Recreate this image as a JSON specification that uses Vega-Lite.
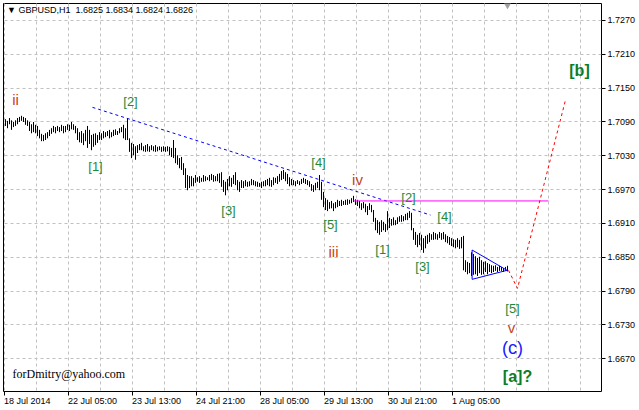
{
 "$schema": "https://vega.github.io/schema/vega-lite/v6.json",
 "width": 598, "height": 388,
 "autosize": {"type": "none"},
 "padding": {"left": 3, "top": 3, "right": 38, "bottom": 19},
 "background": "#ffffff",
 "title": {"text": "▼ GBPUSD,H1\u00a0 1.6825 1.6834 1.6824 1.6826", "anchor": "start", "frame": "group", "offset": -12, "dx": 4, "font": "Liberation Sans", "fontSize": 9, "fontWeight": "normal", "color": "#000000"},
 "config": {
  "view": {"stroke": "#000000", "strokeWidth": 1},
  "axis": {"labelFont": "Liberation Sans", "labelFontSize": 9, "labelColor": "#000000", "tickColor": "#000000", "domain": false, "gridColor": "#c0c0c0", "gridDash": [3, 3], "gridWidth": 1, "title": null}
 },
 "datasets": {
  "bars": [
   {"i":1,"p":1.7082,"hi":1.7094},{"i":2,"p":1.7078,"hi":1.7091},{"i":3,"p":1.7085,"hi":1.7096},{"i":4,"p":1.7075,"hi":1.7092},{"i":5,"p":1.7080,"hi":1.7089},
   {"i":6,"p":1.7082,"hi":1.7092},{"i":7,"p":1.7085,"hi":1.7096},{"i":8,"p":1.7089,"hi":1.7098},{"i":9,"p":1.7091,"hi":1.7100},{"i":10,"p":1.7089,"hi":1.7098},
   {"i":11,"p":1.7084,"hi":1.7096},{"i":12,"p":1.7082,"hi":1.7092},{"i":13,"p":1.7073,"hi":1.7089},{"i":14,"p":1.7069,"hi":1.7085},{"i":15,"p":1.7071,"hi":1.7089},
   {"i":16,"p":1.7069,"hi":1.7084},{"i":17,"p":1.7064,"hi":1.7082},{"i":18,"p":1.7060,"hi":1.7075},{"i":19,"p":1.7055,"hi":1.7068},{"i":20,"p":1.7055,"hi":1.7066},
   {"i":21,"p":1.7057,"hi":1.7069},{"i":22,"p":1.7060,"hi":1.7071},{"i":23,"p":1.7064,"hi":1.7075},{"i":24,"p":1.7068,"hi":1.7078},{"i":25,"p":1.7071,"hi":1.7082},
   {"i":26,"p":1.7069,"hi":1.7080},{"i":27,"p":1.7073,"hi":1.7082},{"i":28,"p":1.7071,"hi":1.7080},{"i":29,"p":1.7073,"hi":1.7084},{"i":30,"p":1.7069,"hi":1.7082},
   {"i":31,"p":1.7071,"hi":1.7082},{"i":32,"p":1.7075,"hi":1.7085},{"i":33,"p":1.7073,"hi":1.7084},{"i":34,"p":1.7076,"hi":1.7089},{"i":35,"p":1.7075,"hi":1.7085},
   {"i":36,"p":1.7069,"hi":1.7082},{"i":37,"p":1.7057,"hi":1.7078},{"i":38,"p":1.7053,"hi":1.7071},{"i":39,"p":1.7052,"hi":1.7073},{"i":40,"p":1.7048,"hi":1.7069},
   {"i":41,"p":1.7055,"hi":1.7075},{"i":42,"p":1.7043,"hi":1.7082},{"i":43,"p":1.7050,"hi":1.7075},{"i":44,"p":1.7039,"hi":1.7066},{"i":45,"p":1.7045,"hi":1.7068},
   {"i":46,"p":1.7048,"hi":1.7069},{"i":47,"p":1.7052,"hi":1.7066},{"i":48,"p":1.7057,"hi":1.7071},{"i":49,"p":1.7057,"hi":1.7069},{"i":50,"p":1.7060,"hi":1.7073},
   {"i":51,"p":1.7062,"hi":1.7071},{"i":52,"p":1.7064,"hi":1.7073},{"i":53,"p":1.7060,"hi":1.7075},{"i":54,"p":1.7062,"hi":1.7071},{"i":55,"p":1.7064,"hi":1.7075},
   {"i":56,"p":1.7066,"hi":1.7076},{"i":57,"p":1.7066,"hi":1.7073},{"i":58,"p":1.7069,"hi":1.7078},{"i":59,"p":1.7071,"hi":1.7080},{"i":60,"p":1.7060,"hi":1.7084},
   {"i":61,"p":1.7057,"hi":1.7078},{"i":62,"p":1.7057,"hi":1.7096},{"i":63,"p":1.7036,"hi":1.7060},{"i":64,"p":1.7025,"hi":1.7052},{"i":65,"p":1.7030,"hi":1.7050},
   {"i":66,"p":1.7022,"hi":1.7046},{"i":67,"p":1.7034,"hi":1.7048},{"i":68,"p":1.7039,"hi":1.7050},{"i":69,"p":1.7039,"hi":1.7052},{"i":70,"p":1.7037,"hi":1.7046},
   {"i":71,"p":1.7036,"hi":1.7048},{"i":72,"p":1.7037,"hi":1.7050},{"i":73,"p":1.7036,"hi":1.7046},{"i":74,"p":1.7039,"hi":1.7048},{"i":75,"p":1.7037,"hi":1.7046},
   {"i":76,"p":1.7036,"hi":1.7048},{"i":77,"p":1.7037,"hi":1.7045},{"i":78,"p":1.7039,"hi":1.7046},{"i":79,"p":1.7036,"hi":1.7045},{"i":80,"p":1.7037,"hi":1.7046},
   {"i":81,"p":1.7036,"hi":1.7045},{"i":82,"p":1.7037,"hi":1.7046},{"i":83,"p":1.7030,"hi":1.7045},{"i":84,"p":1.7027,"hi":1.7043},{"i":85,"p":1.7025,"hi":1.7057},
   {"i":86,"p":1.7016,"hi":1.7043},{"i":87,"p":1.7013,"hi":1.7030},{"i":88,"p":1.7007,"hi":1.7025},{"i":89,"p":1.7004,"hi":1.7027},{"i":90,"p":1.6995,"hi":1.7016},
   {"i":91,"p":1.6972,"hi":1.7007},{"i":92,"p":1.6968,"hi":1.6995},{"i":93,"p":1.6972,"hi":1.6993},{"i":94,"p":1.6975,"hi":1.6993},{"i":95,"p":1.6975,"hi":1.6990},
   {"i":96,"p":1.6981,"hi":1.6995},{"i":97,"p":1.6983,"hi":1.6991},{"i":98,"p":1.6981,"hi":1.6993},{"i":99,"p":1.6983,"hi":1.6990},{"i":100,"p":1.6983,"hi":1.6995},
   {"i":101,"p":1.6984,"hi":1.6993},{"i":102,"p":1.6986,"hi":1.6991},{"i":103,"p":1.6984,"hi":1.6995},{"i":104,"p":1.6986,"hi":1.6997},{"i":105,"p":1.6983,"hi":1.6995},
   {"i":106,"p":1.6984,"hi":1.6993},{"i":107,"p":1.6984,"hi":1.6997},{"i":108,"p":1.6981,"hi":1.6998},{"i":109,"p":1.6974,"hi":1.7000},{"i":110,"p":1.6965,"hi":1.6986},
   {"i":111,"p":1.6959,"hi":1.6983},{"i":112,"p":1.6968,"hi":1.6988},{"i":113,"p":1.6975,"hi":1.6993},{"i":114,"p":1.6974,"hi":1.6990},{"i":115,"p":1.6979,"hi":1.6995},
   {"i":116,"p":1.6977,"hi":1.7000},{"i":117,"p":1.6968,"hi":1.6986},{"i":118,"p":1.6965,"hi":1.6983},{"i":119,"p":1.6972,"hi":1.6986},{"i":120,"p":1.6972,"hi":1.6984},
   {"i":121,"p":1.6975,"hi":1.6986},{"i":122,"p":1.6974,"hi":1.6983},{"i":123,"p":1.6975,"hi":1.6984},{"i":124,"p":1.6977,"hi":1.6988},{"i":125,"p":1.6977,"hi":1.6986},
   {"i":126,"p":1.6975,"hi":1.6984},{"i":127,"p":1.6974,"hi":1.6983},{"i":128,"p":1.6974,"hi":1.6981},{"i":129,"p":1.6972,"hi":1.6983},{"i":130,"p":1.6975,"hi":1.6984},
   {"i":131,"p":1.6975,"hi":1.6986},{"i":132,"p":1.6977,"hi":1.6988},{"i":133,"p":1.6975,"hi":1.6990},{"i":134,"p":1.6974,"hi":1.6986},{"i":135,"p":1.6977,"hi":1.6991},
   {"i":136,"p":1.6981,"hi":1.6990},{"i":137,"p":1.6979,"hi":1.6993},{"i":138,"p":1.6983,"hi":1.6997},{"i":139,"p":1.6986,"hi":1.7002},{"i":140,"p":1.6988,"hi":1.7004},
   {"i":141,"p":1.6984,"hi":1.7000},{"i":142,"p":1.6979,"hi":1.6997},{"i":143,"p":1.6975,"hi":1.6991},{"i":144,"p":1.6977,"hi":1.6988},{"i":145,"p":1.6977,"hi":1.6986},
   {"i":146,"p":1.6975,"hi":1.6984},{"i":147,"p":1.6979,"hi":1.6986},{"i":148,"p":1.6977,"hi":1.6984},{"i":149,"p":1.6979,"hi":1.6988},{"i":150,"p":1.6981,"hi":1.6990},
   {"i":151,"p":1.6979,"hi":1.6988},{"i":152,"p":1.6977,"hi":1.6986},{"i":153,"p":1.6974,"hi":1.6984},{"i":154,"p":1.6967,"hi":1.6979},{"i":155,"p":1.6965,"hi":1.6977},
   {"i":156,"p":1.6968,"hi":1.6981},{"i":157,"p":1.6972,"hi":1.6983},{"i":158,"p":1.6968,"hi":1.6995},{"i":159,"p":1.6951,"hi":1.6983},{"i":160,"p":1.6938,"hi":1.6965},
   {"i":161,"p":1.6933,"hi":1.6954},{"i":162,"p":1.6931,"hi":1.6951},{"i":163,"p":1.6935,"hi":1.6947},{"i":164,"p":1.6936,"hi":1.6949},{"i":165,"p":1.6931,"hi":1.6945},
   {"i":166,"p":1.6936,"hi":1.6947},{"i":167,"p":1.6938,"hi":1.6951},{"i":168,"p":1.6940,"hi":1.6949},{"i":169,"p":1.6940,"hi":1.6951},{"i":170,"p":1.6942,"hi":1.6949},
   {"i":171,"p":1.6942,"hi":1.6951},{"i":172,"p":1.6942,"hi":1.6952},{"i":173,"p":1.6944,"hi":1.6951},{"i":174,"p":1.6945,"hi":1.6954},{"i":175,"p":1.6947,"hi":1.6958},
   {"i":176,"p":1.6942,"hi":1.6952},{"i":177,"p":1.6940,"hi":1.6951},{"i":178,"p":1.6936,"hi":1.6949},{"i":179,"p":1.6933,"hi":1.6945},{"i":180,"p":1.6936,"hi":1.6947},
   {"i":181,"p":1.6929,"hi":1.6944},{"i":182,"p":1.6924,"hi":1.6940},{"i":183,"p":1.6933,"hi":1.6945},{"i":184,"p":1.6929,"hi":1.6942},{"i":185,"p":1.6912,"hi":1.6933},
   {"i":186,"p":1.6897,"hi":1.6919},{"i":187,"p":1.6892,"hi":1.6915},{"i":188,"p":1.6889,"hi":1.6912},{"i":189,"p":1.6894,"hi":1.6915},{"i":190,"p":1.6897,"hi":1.6912},
   {"i":191,"p":1.6894,"hi":1.6908},{"i":192,"p":1.6897,"hi":1.6931},{"i":193,"p":1.6901,"hi":1.6919},{"i":194,"p":1.6905,"hi":1.6917},{"i":195,"p":1.6906,"hi":1.6920},
   {"i":196,"p":1.6906,"hi":1.6915},{"i":197,"p":1.6908,"hi":1.6920},{"i":198,"p":1.6912,"hi":1.6922},{"i":199,"p":1.6912,"hi":1.6924},{"i":200,"p":1.6913,"hi":1.6922},
   {"i":201,"p":1.6915,"hi":1.6926},{"i":202,"p":1.6915,"hi":1.6928},{"i":203,"p":1.6919,"hi":1.6931},{"i":204,"p":1.6897,"hi":1.6928},{"i":205,"p":1.6880,"hi":1.6901},
   {"i":206,"p":1.6871,"hi":1.6894},{"i":207,"p":1.6867,"hi":1.6889},{"i":208,"p":1.6871,"hi":1.6892},{"i":209,"p":1.6862,"hi":1.6889},{"i":210,"p":1.6857,"hi":1.6883},
   {"i":211,"p":1.6865,"hi":1.6887},{"i":212,"p":1.6873,"hi":1.6889},{"i":213,"p":1.6876,"hi":1.6892},{"i":214,"p":1.6880,"hi":1.6890},{"i":215,"p":1.6880,"hi":1.6894},
   {"i":216,"p":1.6881,"hi":1.6892},{"i":217,"p":1.6880,"hi":1.6890},{"i":218,"p":1.6883,"hi":1.6894},{"i":219,"p":1.6880,"hi":1.6892},{"i":220,"p":1.6881,"hi":1.6894},
   {"i":221,"p":1.6876,"hi":1.6890},{"i":222,"p":1.6874,"hi":1.6887},{"i":223,"p":1.6871,"hi":1.6885},{"i":224,"p":1.6869,"hi":1.6883},{"i":225,"p":1.6867,"hi":1.6881},
   {"i":226,"p":1.6865,"hi":1.6880},{"i":227,"p":1.6867,"hi":1.6883},{"i":228,"p":1.6864,"hi":1.6880},{"i":229,"p":1.6865,"hi":1.6885},{"i":230,"p":1.6826,"hi":1.6887},
   {"i":231,"p":1.6823,"hi":1.6844},{"i":232,"p":1.6819,"hi":1.6841},{"i":233,"p":1.6821,"hi":1.6839},{"i":234,"p":1.6816,"hi":1.6858},{"i":235,"p":1.6818,"hi":1.6855},
   {"i":236,"p":1.6819,"hi":1.6851},{"i":237,"p":1.6816,"hi":1.6848},{"i":238,"p":1.6821,"hi":1.6850},{"i":239,"p":1.6818,"hi":1.6844},{"i":240,"p":1.6819,"hi":1.6841},
   {"i":241,"p":1.6823,"hi":1.6842},{"i":242,"p":1.6819,"hi":1.6839},{"i":243,"p":1.6823,"hi":1.6837},{"i":244,"p":1.6821,"hi":1.6835},{"i":245,"p":1.6823,"hi":1.6834},
   {"i":246,"p":1.6825,"hi":1.6835},{"i":247,"p":1.6823,"hi":1.6832},{"i":248,"p":1.6825,"hi":1.6834},{"i":249,"p":1.6825,"hi":1.6832},{"i":250,"p":1.6823,"hi":1.6830},
   {"i":251,"p":1.6825,"hi":1.6832},{"i":252,"p":1.6824,"hi":1.6834}
  ],
  "trend": [{"k":0,"i":44.5,"p":1.7115},{"k":1,"i":213.5,"p":1.6924}],
  "triangle": [{"k":0,"i":234.3,"p":1.6862},{"k":1,"i":251.8,"p":1.6826},{"k":2,"i":234.3,"p":1.6810},{"k":3,"i":234.3,"p":1.6862}],
  "level": [{"k":0,"i":175,"p":1.6949},{"k":1,"i":272.5,"p":1.6949}],
  "projection": [{"k":0,"i":252.5,"p":1.6826},{"k":1,"i":257,"p":1.6794},{"k":2,"i":281,"p":1.7128}],
  "labels": [
   {"t":"ii","i":6,"p":1.7128,"deg":"roman"},
   {"t":"[2]","i":63.5,"p":1.7125,"deg":"minute"},
   {"t":"[1]","i":46,"p":1.7009,"deg":"minute"},
   {"t":"[3]","i":112.5,"p":1.6931,"deg":"minute"},
   {"t":"[4]","i":157.5,"p":1.7016,"deg":"minute"},
   {"t":"[5]","i":163.5,"p":1.6906,"deg":"minute"},
   {"t":"iii","i":165,"p":1.6859,"deg":"roman"},
   {"t":"iv","i":177,"p":1.6986,"deg":"roman"},
   {"t":"[1]","i":189.5,"p":1.6862,"deg":"minute"},
   {"t":"[2]","i":202.5,"p":1.6955,"deg":"minute"},
   {"t":"[3]","i":209.5,"p":1.6832,"deg":"minute"},
   {"t":"[4]","i":220.5,"p":1.6921,"deg":"minute"},
   {"t":"[5]","i":254.5,"p":1.6757,"deg":"minute"},
   {"t":"v","i":254,"p":1.6723,"deg":"roman"},
   {"t":"(c)","i":254.5,"p":1.6686,"deg":"minor"},
   {"t":"[a]?","i":257,"p":1.6637,"deg":"primary"},
   {"t":"[b]","i":288,"p":1.7180,"deg":"primary"}
  ],
  "note": [{"t":"forDmitry@yahoo.com","i":4.5,"p":1.6642}],
  "shift": [{"i":252,"p":1.7294}]
 },
 "encoding": {
  "x": {"field": "i", "type": "quantitative",
   "scale": {"domain": [-0.25, 298.75], "nice": false, "zero": false},
   "axis": {"orient": "bottom", "values": [0,16,32,48,64,80,96,112,128,144,160,176,192,208,224,240,256,272,288],
    "grid": true, "labelAlign": "left", "labelBaseline": "top", "labelPadding": 1, "tickSize": 4, "labelFlush": false, "labelOverlap": false,
    "tickOpacity": {"condition": {"test": "datum.value % 32 === 0 && datum.value <= 224", "value": 1}, "value": 0},
    "labelExpr": "datum.value == 0 ? '18 Jul 2014' : datum.value == 32 ? '22 Jul 05:00' : datum.value == 64 ? '23 Jul 13:00' : datum.value == 96 ? '24 Jul 21:00' : datum.value == 128 ? '28 Jul 05:00' : datum.value == 160 ? '29 Jul 13:00' : datum.value == 192 ? '30 Jul 21:00' : datum.value == 224 ? '1 Aug 05:00' : ''"}},
  "y": {"field": "p", "type": "quantitative",
   "scale": {"domain": [1.6612, 1.7300], "nice": false, "zero": false},
   "axis": {"orient": "right", "values": [1.667,1.673,1.679,1.685,1.691,1.697,1.703,1.709,1.715,1.721,1.727], "format": ".4f", "grid": true, "tickSize": 4, "labelPadding": 2, "labelBaseline": "middle"}}
 },
 "layer": [
  {"data": {"name": "bars"}, "mark": {"type": "rule", "color": "#000000", "strokeWidth": 1}, "encoding": {"y2": {"field": "hi"}}},
  {"data": {"name": "trend"}, "mark": {"type": "line", "color": "#0000ff", "strokeWidth": 1, "strokeDash": [3, 3]}, "encoding": {"order": {"field": "k"}}},
  {"data": {"name": "triangle"}, "mark": {"type": "line", "color": "#0000ff", "strokeWidth": 1}, "encoding": {"order": {"field": "k"}}},
  {"data": {"name": "level"}, "mark": {"type": "line", "color": "#ff00ff", "strokeWidth": 1}, "encoding": {"order": {"field": "k"}}},
  {"data": {"name": "projection"}, "mark": {"type": "line", "color": "#ff0000", "strokeWidth": 1, "strokeDash": [3, 3]}, "encoding": {"order": {"field": "k"}}},
  {"data": {"name": "labels"}, "transform": [{"filter": "datum.deg == 'minute'"}], "mark": {"type": "text", "font": "Liberation Sans", "fontSize": 13, "color": "#1f8a3a", "align": "center", "baseline": "middle"}, "encoding": {"text": {"field": "t"}}},
  {"data": {"name": "labels"}, "transform": [{"filter": "datum.deg == 'roman'"}], "mark": {"type": "text", "font": "Liberation Sans", "fontSize": 15, "color": "#c8421e", "align": "center", "baseline": "middle"}, "encoding": {"text": {"field": "t"}}},
  {"data": {"name": "labels"}, "transform": [{"filter": "datum.deg == 'minor'"}], "mark": {"type": "text", "font": "Liberation Sans", "fontSize": 18, "color": "#1a1aff", "align": "center", "baseline": "middle"}, "encoding": {"text": {"field": "t"}}},
  {"data": {"name": "labels"}, "transform": [{"filter": "datum.deg == 'primary'"}], "mark": {"type": "text", "font": "Liberation Sans", "fontSize": 16, "fontWeight": "bold", "color": "#0a7d2a", "align": "center", "baseline": "middle"}, "encoding": {"text": {"field": "t"}}},
  {"data": {"name": "note"}, "mark": {"type": "text", "font": "Liberation Serif", "fontSize": 12, "color": "#000000", "align": "left", "baseline": "middle"}, "encoding": {"text": {"field": "t"}}},
  {"data": {"name": "shift"}, "mark": {"type": "point", "shape": "triangle-down", "filled": true, "size": 45, "color": "#a0a0a0", "opacity": 1}}
 ]
}
